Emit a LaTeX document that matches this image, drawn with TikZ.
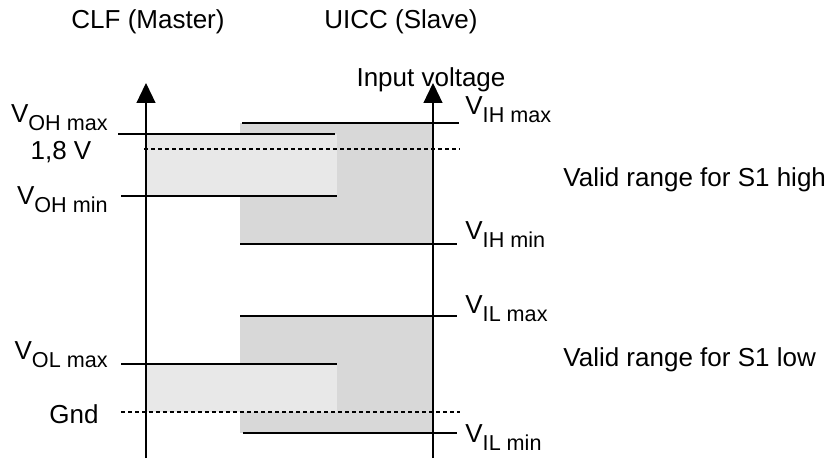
\documentclass[tikz,border=0pt]{standalone}
\usepackage{fontspec}
\setmainfont{Liberation Sans}
\usetikzlibrary{arrows.meta}
\definecolor{outrange}{RGB}{232,232,232}
\definecolor{inrange}{RGB}{216,216,216}
\newcommand{\volt}[1]{V\raisebox{-3.7pt}{\fontsize{10.8}{12}\selectfont #1}}

\begin{document}
\begin{tikzpicture}[x=0.5pt,y=-0.5pt,
  every node/.style={font=\fontsize{13}{15}\selectfont,inner sep=0pt},
  level/.style={line width=1pt},
  axis/.style={line width=0.6pt,-{Triangle[length=10pt,width=9.5pt]}},
  ref/.style={line width=0.6pt,dash pattern=on 2.2pt off 1.3pt}]
  \useasboundingbox (0,0) rectangle (835,459);
  % input ranges of the slave
  \fill[inrange] (240,123) rectangle (433,244);
  \fill[inrange] (240,316) rectangle (433,433);
  % output ranges of the master
  \fill[outrange] (146,134) rectangle (337,196);
  \fill[outrange] (146,364) rectangle (337,412);
  \draw[axis] (146,458) -- (146,83);
  \draw[axis] (433,458) -- (433,83);
  % levels
  \draw[level] (118,134) -- (335,134);
  \draw[level] (121,196) -- (337,196);
  \draw[level] (121,364) -- (337,364);
  \draw[level] (242,123) -- (459,123);
  \draw[level] (240,244) -- (457,244);
  \draw[level] (240,316) -- (457,316);
  \draw[level] (243,433) -- (457,433);
  \draw[ref] (144,149) -- (460,149);
  \draw[ref] (121,412) -- (460,412);
  % labels
  \node[anchor=base] (master) at (148,29) {CLF (Master)};
  \node[anchor=base] (slave) at (401,29) {UICC (Slave)};
  \node[anchor=base] (input) at (431,87) {Input voltage};
  \node[anchor=base east] (vohmax) at (108,123) {\volt{OH max}};
  \node[anchor=base] (nominal) at (61,160) {1,8 V};
  \node[anchor=base east] (vohmin) at (108,205) {\volt{OH min}};
  \node[anchor=base east] (volmax) at (108,360) {\volt{OL max}};
  \node[anchor=base] (gnd) at (74,423) {Gnd};
  \node[anchor=base west] (vihmax) at (465,115) {\volt{IH max}};
  \node[anchor=base west] (vihmin) at (465,240) {\volt{IH min}};
  \node[anchor=base west] (vilmax) at (465,314) {\volt{IL max}};
  \node[anchor=base west] (vilmin) at (465,443) {\volt{IL min}};
  \node[anchor=base west] (high) at (563,187) {Valid range for S1 high};
  \node[anchor=base west] (low) at (563,367) {Valid range for S1 low};
\end{tikzpicture}
\end{document}
